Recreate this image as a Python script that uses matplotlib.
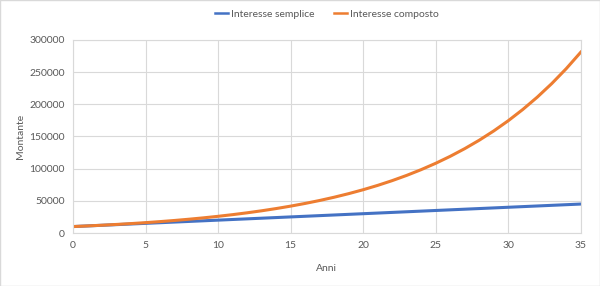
import matplotlib.pyplot as plt

plt.rcParams['font.family'] = ['Lato', 'DejaVu Sans']

# anni e montanti (capitale 10000, tasso 10%)
anni = list(range(0, 36))
semplice = [10000, 11000, 12000, 13000, 14000, 15000, 16000, 17000, 18000, 19000,
            20000, 21000, 22000, 23000, 24000, 25000, 26000, 27000, 28000, 29000,
            30000, 31000, 32000, 33000, 34000, 35000, 36000, 37000, 38000, 39000,
            40000, 41000, 42000, 43000, 44000, 45000]
composto = [10000, 11000, 12100, 13310, 14641, 16105, 17716, 19487, 21436, 23579,
            25937, 28531, 31384, 34523, 37975, 41772, 45950, 50545, 55599, 61159,
            67275, 74002, 81403, 89543, 98497, 108347, 119182, 131100, 144210, 158631,
            174494, 191943, 211138, 232252, 255477, 281024]

fig = plt.figure(figsize=(6, 2.86), dpi=100)
ax = fig.add_axes([0.1217, 0.1853, 0.8463, 0.675])

ax.plot(anni, semplice, color='#4472C4', lw=2.2, label='Interesse semplice')
ax.plot(anni, composto, color='#ED7D31', lw=2.2, label='Interesse composto')

ax.set_xlim(0, 35)
ax.set_ylim(0, 300000)
ax.set_xticks(range(0, 36, 5))
ax.set_yticks(range(0, 300001, 50000))
ax.grid(True, color='#D9D9D9', lw=0.8)
ax.set_axisbelow(True)
for s in ax.spines.values():
    s.set_color('#D9D9D9')
ax.tick_params(length=0, labelsize=7.5, labelcolor='#595959', pad=6)

ax.set_xlabel('Anni', fontsize=7.5, color='#595959', labelpad=10)
ax.set_ylabel('Montante', fontsize=7.5, color='#595959', labelpad=3)

leg = ax.legend(loc='lower center', bbox_to_anchor=(0.5, 1.06), ncol=2, frameon=False,
                fontsize=7.5, labelcolor='#595959', handlelength=1.3,
                handletextpad=0.3, columnspacing=1.8)
for h in leg.get_lines():
    h.set_linewidth(1.8)

fig.patches.append(plt.Rectangle((0, 0), 1, 1, transform=fig.transFigure,
                                 fill=False, edgecolor='#D9D9D9', lw=1))
fig.savefig('out.png', dpi=100)
